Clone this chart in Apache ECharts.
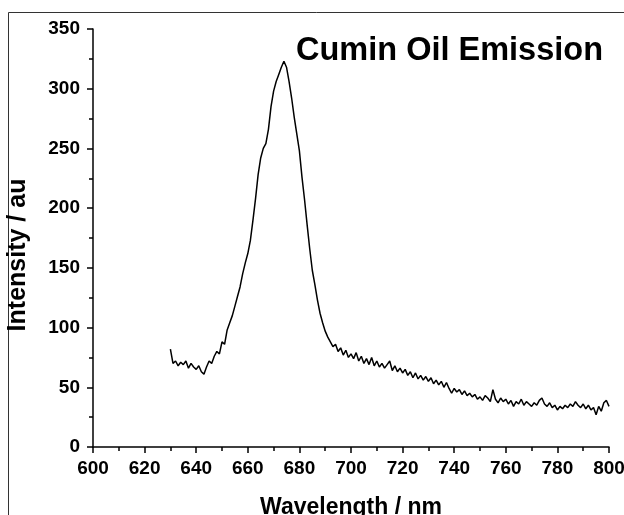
<!DOCTYPE html>
<html>
<head>
<meta charset="utf-8">
<script src="https://cdn.jsdelivr.net/npm/echarts@6/dist/echarts.min.js"></script>
<style>html,body{margin:0;padding:0;background:#fff}#c{width:624px;height:515px}</style>
</head>
<body>
<div id="c"></div>
<script>
const titleText = "Cumin Oil Emission";
const xName = "Wavelength / nm";
const yName = "Intensity / au";
const wavelengthStart = 630;
const wavelengthStep = 1;
const intensity = [
82,70,72,68,71,69,72,66,70,67,
65,68,63,61,67,72,70,76,80,78,
88,86,98,104,110,118,126,134,145,154,
162,173,190,208,228,242,250,254,266,285,
298,306,312,318,323,318,306,292,276,262,
248,226,207,186,166,148,136,123,112,104,
97,92,88,84,86,80,83,77,81,75,
78,74,79,72,76,70,74,69,75,68,
72,67,70,66,69,72,64,68,63,66,
62,65,60,63,58,62,57,60,56,59,
55,58,53,56,52,55,50,54,49,45,
49,46,48,44,47,43,45,42,44,40,
42,39,43,41,38,48,40,37,41,38,
40,36,39,34,38,36,40,35,38,36,
34,37,35,39,41,36,34,37,33,35,
31,34,32,35,33,36,34,38,35,33,
36,32,35,31,33,27,34,30,37,39,
34
];
const seriesData = intensity.map((v, i) => [wavelengthStart + i * wavelengthStep, v]);

const chart = echarts.init(document.getElementById('c'), null, {renderer: 'canvas'});
const font = 'Liberation Sans, Arial, sans-serif';
chart.setOption({
  animation: false,
  backgroundColor: '#fff',
  grid: {left: 93, right: 15, top: 29, bottom: 68, containLabel: false, outerBoundsMode: 'none'},
  title: {
    text: titleText, left: 291, top: 30,
    textStyle: {fontFamily: font, fontWeight: 'bold', fontSize: 32.5, color: '#000'}
  },
  graphic: [{
    type: 'rect', shape: {x: 8.5, y: 12.5, width: 700, height: 600},
    style: {fill: 'none', stroke: '#333', lineWidth: 1}, silent: true
  }, {
    type: 'text', x: 18, y: 255, rotation: Math.PI / 2,
    style: {text: yName, fontFamily: font, fontWeight: 'bold', fontSize: 25, fill: '#000', align: 'center', verticalAlign: 'middle'},
    silent: true
  }],
  xAxis: {
    type: 'value', min: 600, max: 800, interval: 20,
    name: xName, nameLocation: 'middle', nameGap: 49,
    nameTextStyle: {fontFamily: font, fontWeight: 'bold', fontSize: 23, color: '#000'},
    axisLine: {lineStyle: {color: '#000', width: 1.5}},
    axisTick: {inside: false, length: 6, lineStyle: {color: '#000', width: 1.5}},
    minorTick: {show: true, splitNumber: 2, length: 4, lineStyle: {color: '#000', width: 1.5}},
    axisLabel: {fontFamily: font, fontWeight: 'bold', fontSize: 19, color: '#000', margin: 12},
    splitLine: {show: false}
  },
  yAxis: {
    type: 'value', min: 0, max: 350, interval: 50,
    axisLine: {show: true, lineStyle: {color: '#000', width: 1.5}},
    axisTick: {show: true, inside: false, length: 6, lineStyle: {color: '#000', width: 1.5}},
    minorTick: {show: true, splitNumber: 2, length: 4, lineStyle: {color: '#000', width: 1.5}},
    axisLabel: {fontFamily: font, fontWeight: 'bold', fontSize: 19, color: '#000', margin: 13},
    splitLine: {show: false}
  },
  series: [{
    type: 'line', data: seriesData, showSymbol: false, symbol: 'none',
    lineStyle: {color: '#000', width: 1.5}
  }]
});
</script>
</body>
</html>
